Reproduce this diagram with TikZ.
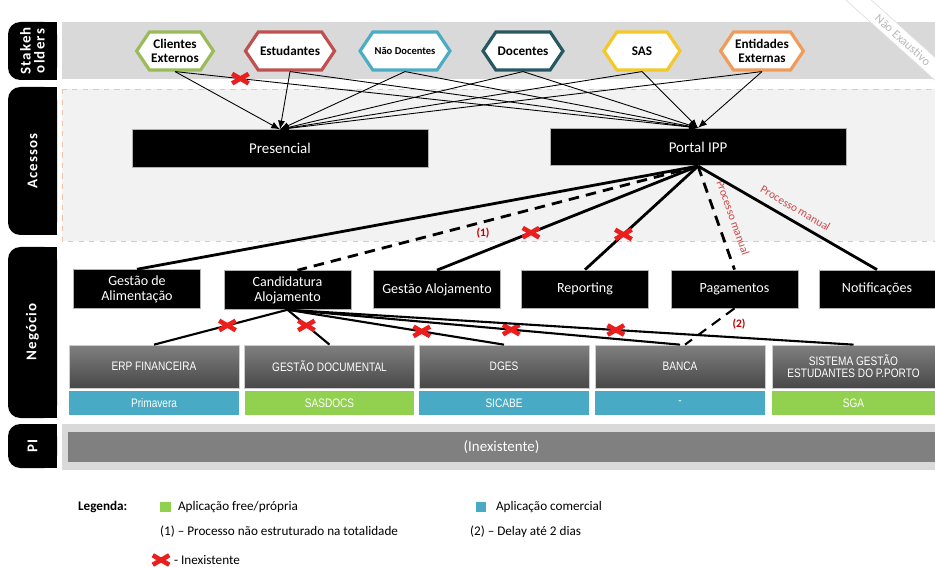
\documentclass[tikz,border=0pt]{standalone}
\usepackage{fontspec}
\setmainfont{Carlito}
\newfontfamily\narrowfont[FakeStretch=0.82]{Liberation Sans}
\newfontfamily\tabfont[LetterSpace=8]{Carlito}
\usetikzlibrary{shapes.symbols,shapes.misc,arrows.meta}

\definecolor{hexgreen}{RGB}{155,187,89}
\definecolor{hexred}{RGB}{192,80,77}
\definecolor{hexblue}{RGB}{75,172,198}
\definecolor{hexteal}{RGB}{38,88,98}
\definecolor{hexyellow}{RGB}{244,200,40}
\definecolor{hexorange}{RGB}{240,155,90}
\definecolor{appblue}{RGB}{72,170,196}
\definecolor{appgreen}{RGB}{146,208,80}
\definecolor{bandgray}{RGB}{217,217,217}
\definecolor{bandlight}{RGB}{242,242,242}
\definecolor{bandborder}{RGB}{240,195,170}
\definecolor{sysTop}{RGB}{128,128,128}
\definecolor{sysBot}{RGB}{72,72,72}
\definecolor{xred}{RGB}{235,30,30}
\definecolor{notered}{RGB}{205,70,70}

\tikzset{
  hexa/.style={signal, signal to=east and west, signal pointer angle=112,
    draw=#1, line width=1.8pt, fill=white, minimum width=1.52cm,
    minimum height=0.76cm, inner sep=1pt, align=center,
    font=\bfseries\fontsize{7.5}{7.5}\selectfont},
  acesso/.style={fill=black, draw=gray!60, text=white, minimum width=5.92cm,
    minimum height=0.75cm, font=\fontsize{8.5}{9}\selectfont},
  negocio/.style={fill=black, draw=gray!60, text=white, minimum width=2.54cm,
    minimum height=0.76cm, align=center, font=\fontsize{8}{8.5}\selectfont},
  sistema/.style={top color=sysTop, bottom color=sysBot, draw=gray!40,
    text=white, minimum width=3.4cm, minimum height=0.86cm, align=center,
    font=\narrowfont\fontsize{7}{7}\selectfont},
  app/.style={fill=#1, text=white, minimum width=3.4cm, minimum height=0.48cm,
    inner sep=0pt, font=\narrowfont\fontsize{7}{7}\selectfont},
  tabtext/.style={text=white, rotate=90, align=center,
    font=\tabfont\bfseries\fontsize{8.5}{8}\selectfont},
  link/.style={line width=0.5pt, -{Latex[length=5pt,width=4pt]}},
  fluxo/.style={line width=1.6pt},
  fino/.style={line width=1.2pt},
  tracejado/.style={dash pattern=on 6pt off 4pt},
  nox/.style={cross out, draw=xred, line width=2.6pt, minimum width=0.33cm,
    minimum height=0.19cm, inner sep=0pt, outer sep=0pt},
  nota/.style={text=notered, font=\fontsize{6.5}{7}\selectfont, inner sep=1pt},
  ref/.style={text=red!75!black, font=\bfseries\fontsize{6.5}{7}\selectfont},
  legtext/.style={anchor=west, inner sep=1pt, font=\fontsize{7.5}{8}\selectfont},
  legbox/.style={fill=#1, minimum size=0.21cm, inner sep=0pt}
}

\begin{document}
\begin{tikzpicture}[x=0.02cm,y=-0.02cm]
\useasboundingbox (0,0) rectangle (935,567);

% bands
\fill [bandgray] (62,22) rectangle (935,79);
\draw [bandborder,dashed,fill=bandlight] (62,89) rectangle (935,241);
\fill [bandgray] (62,424) rectangle (935,470);

% tabs
\foreach \ya/\yb in {22/80, 87/235, 247/418, 424/468}
{
  \fill [black,rounded corners=7pt] (8,\ya) rectangle (57,\yb);
  \fill [black] (30,\ya) rectangle (57,\yb);
}
\node [tabtext] (tstake) at (32.5,51) {Stakeh\\olders};
\node [tabtext] (tacess) at (32.5,161) {Acessos};
\node [tabtext] (tneg) at (32.5,332) {Negócio};
\node [tabtext] (tpi) at (32.5,446) {PI};

% nao exaustivo
\node [rotate=-42, draw=gray!25, fill=white, text=gray!55, minimum width=3cm,
  minimum height=0.34cm, inner sep=1pt, font=\fontsize{7}{7}\selectfont] (naoex) at (903,40) {Não Exaustivo};

% stakeholders
\node [hexa=hexgreen] (cli) at (175,51) {Clientes\\Externos};
\node [hexa=hexred] (est) at (290,51) {Estudantes};
\node [hexa=hexblue, font=\bfseries\fontsize{6}{6}\selectfont] (nd) at (405,51) {Não Docentes};
\node [hexa=hexteal] (doc) at (523,51) {Docentes};
\node [hexa=hexyellow] (sas) at (642,51) {SAS};
\node [hexa=hexorange] (ent) at (762,51) {Entidades\\Externas};

% acessos
\node [acesso] (pres) at (280,148.5) {Presencial};
\node [acesso] (portal) at (698,147) {Portal IPP};

% negocio
\node [negocio] (alim) at (137,289) {Gestão de\\Alimentação};
\node [negocio] (cand) at (287.5,290) {Candidatura\\Alojamento};
\node [negocio] (galoj) at (437,289.5) {Gestão Alojamento};
\node [negocio] (rep) at (585,289) {Reporting};
\node [negocio] (pag) at (734.5,289) {Pagamentos};
\node [negocio, minimum width=2.32cm] (notif) at (877,289) {Notificações};

\node [sistema] (erp) at (154,366.5) {ERP FINANCEIRA};
\node [sistema] (gdoc) at (329.5,366.5) {GESTÃO DOCUMENTAL};
\node [sistema] (dges) at (504,366.5) {DGES};
\node [sistema] (banca) at (680,366.5) {BANCA};
\node [sistema, minimum width=3.26cm] (sges) at (853.5,366.5) {SISTEMA GESTÃO\\ESTUDANTES DO P.PORTO};

\node [app=appblue] (prim) at (154,403) {Primavera};
\node [app=appgreen] (sasdocs) at (329.5,403) {SASDOCS};
\node [app=appblue] (sicabe) at (504,403) {SICABE};
\node [app=appblue] (nada) at (680,403) {-};
\node [app=appgreen, minimum width=3.26cm] (sga) at (853.5,403) {SGA};

% PI
\node [fill=sysTop, text=white, minimum width=17.34cm, minimum height=0.6cm,
  font=\fontsize{8.5}{9}\selectfont] (pi) at (501.5,447) {(Inexistente)};

% stakeholders -> acessos
\foreach \s in {cli,est,nd,doc,sas,ent}
  \draw [link] (\s.south) -- (pres.north);
\foreach \s in {est,nd,doc,sas,ent}
  \draw [link] (\s.south) -- (portal.north);
\draw [link] (cli.south) -- node [nox,pos=0.125] (x0) {} (portal.north);

% portal -> negocio
\draw [fluxo] (portal.south) -- (alim.north);
\draw [fluxo,tracejado] (portal.south) -- ([xshift=0.2cm]cand.north);
\draw [fluxo] (portal.south) -- node [nox,pos=0.64] (x1) {} (galoj.north);
\draw [fluxo] (portal.south) -- node [nox,pos=0.66] (x2) {} (rep.north);
\draw [fluxo,tracejado] (portal.south) -- node [nota,sloped,above=5pt,pos=0.55] (pm1) {Processo manual} (pag.north);
\draw [fluxo] (portal.south) -- node [nota,sloped,above=3pt,pos=0.51] (pm2) {Processo manual} (notif.north);
\node [ref] (r1) at (483,233) {(1)};

% candidatura -> sistemas
\draw [fino] (cand.south) -- node [nox,pos=0.45] (x3) {} (erp.north);
\draw [fino] (cand.south) -- node [nox,pos=0.45] (x4) {} (gdoc.north);
\draw [fino] (cand.south) -- node [nox,pos=0.62] (x5) {} (dges.north);
\draw [fino] (cand.south) -- node [nox,pos=0.57] (x6) {} (banca.north);
\draw [fino] (cand.south) -- node [nox,pos=0.58] (x7) {} (sges.north);
\draw [fino,tracejado] (pag.south) -- ([xshift=0.1cm]banca.north);
\node [ref] (r2) at (739,324) {(2)};

% legenda
\node [legtext, font=\bfseries\fontsize{7.5}{8}\selectfont] (leg) at (76,507) {Legenda:};
\node [legbox=appgreen] (lgreen) at (165.5,507) {};
\node [legtext] (lfree) at (176,507) {Aplicação free/própria};
\node [legbox=appblue] (lblue) at (481,507) {};
\node [legtext] (lcom) at (494,507) {Aplicação comercial};
\node [legtext] (l1) at (158,532) {(1) – Processo não estruturado na totalidade};
\node [legtext] (l2) at (468,532) {(2) – Delay até 2 dias};
\node [nox] (lx) at (161,560) {};
\node [legtext] (lxt) at (172,560) {- Inexistente};
\end{tikzpicture}
\end{document}
